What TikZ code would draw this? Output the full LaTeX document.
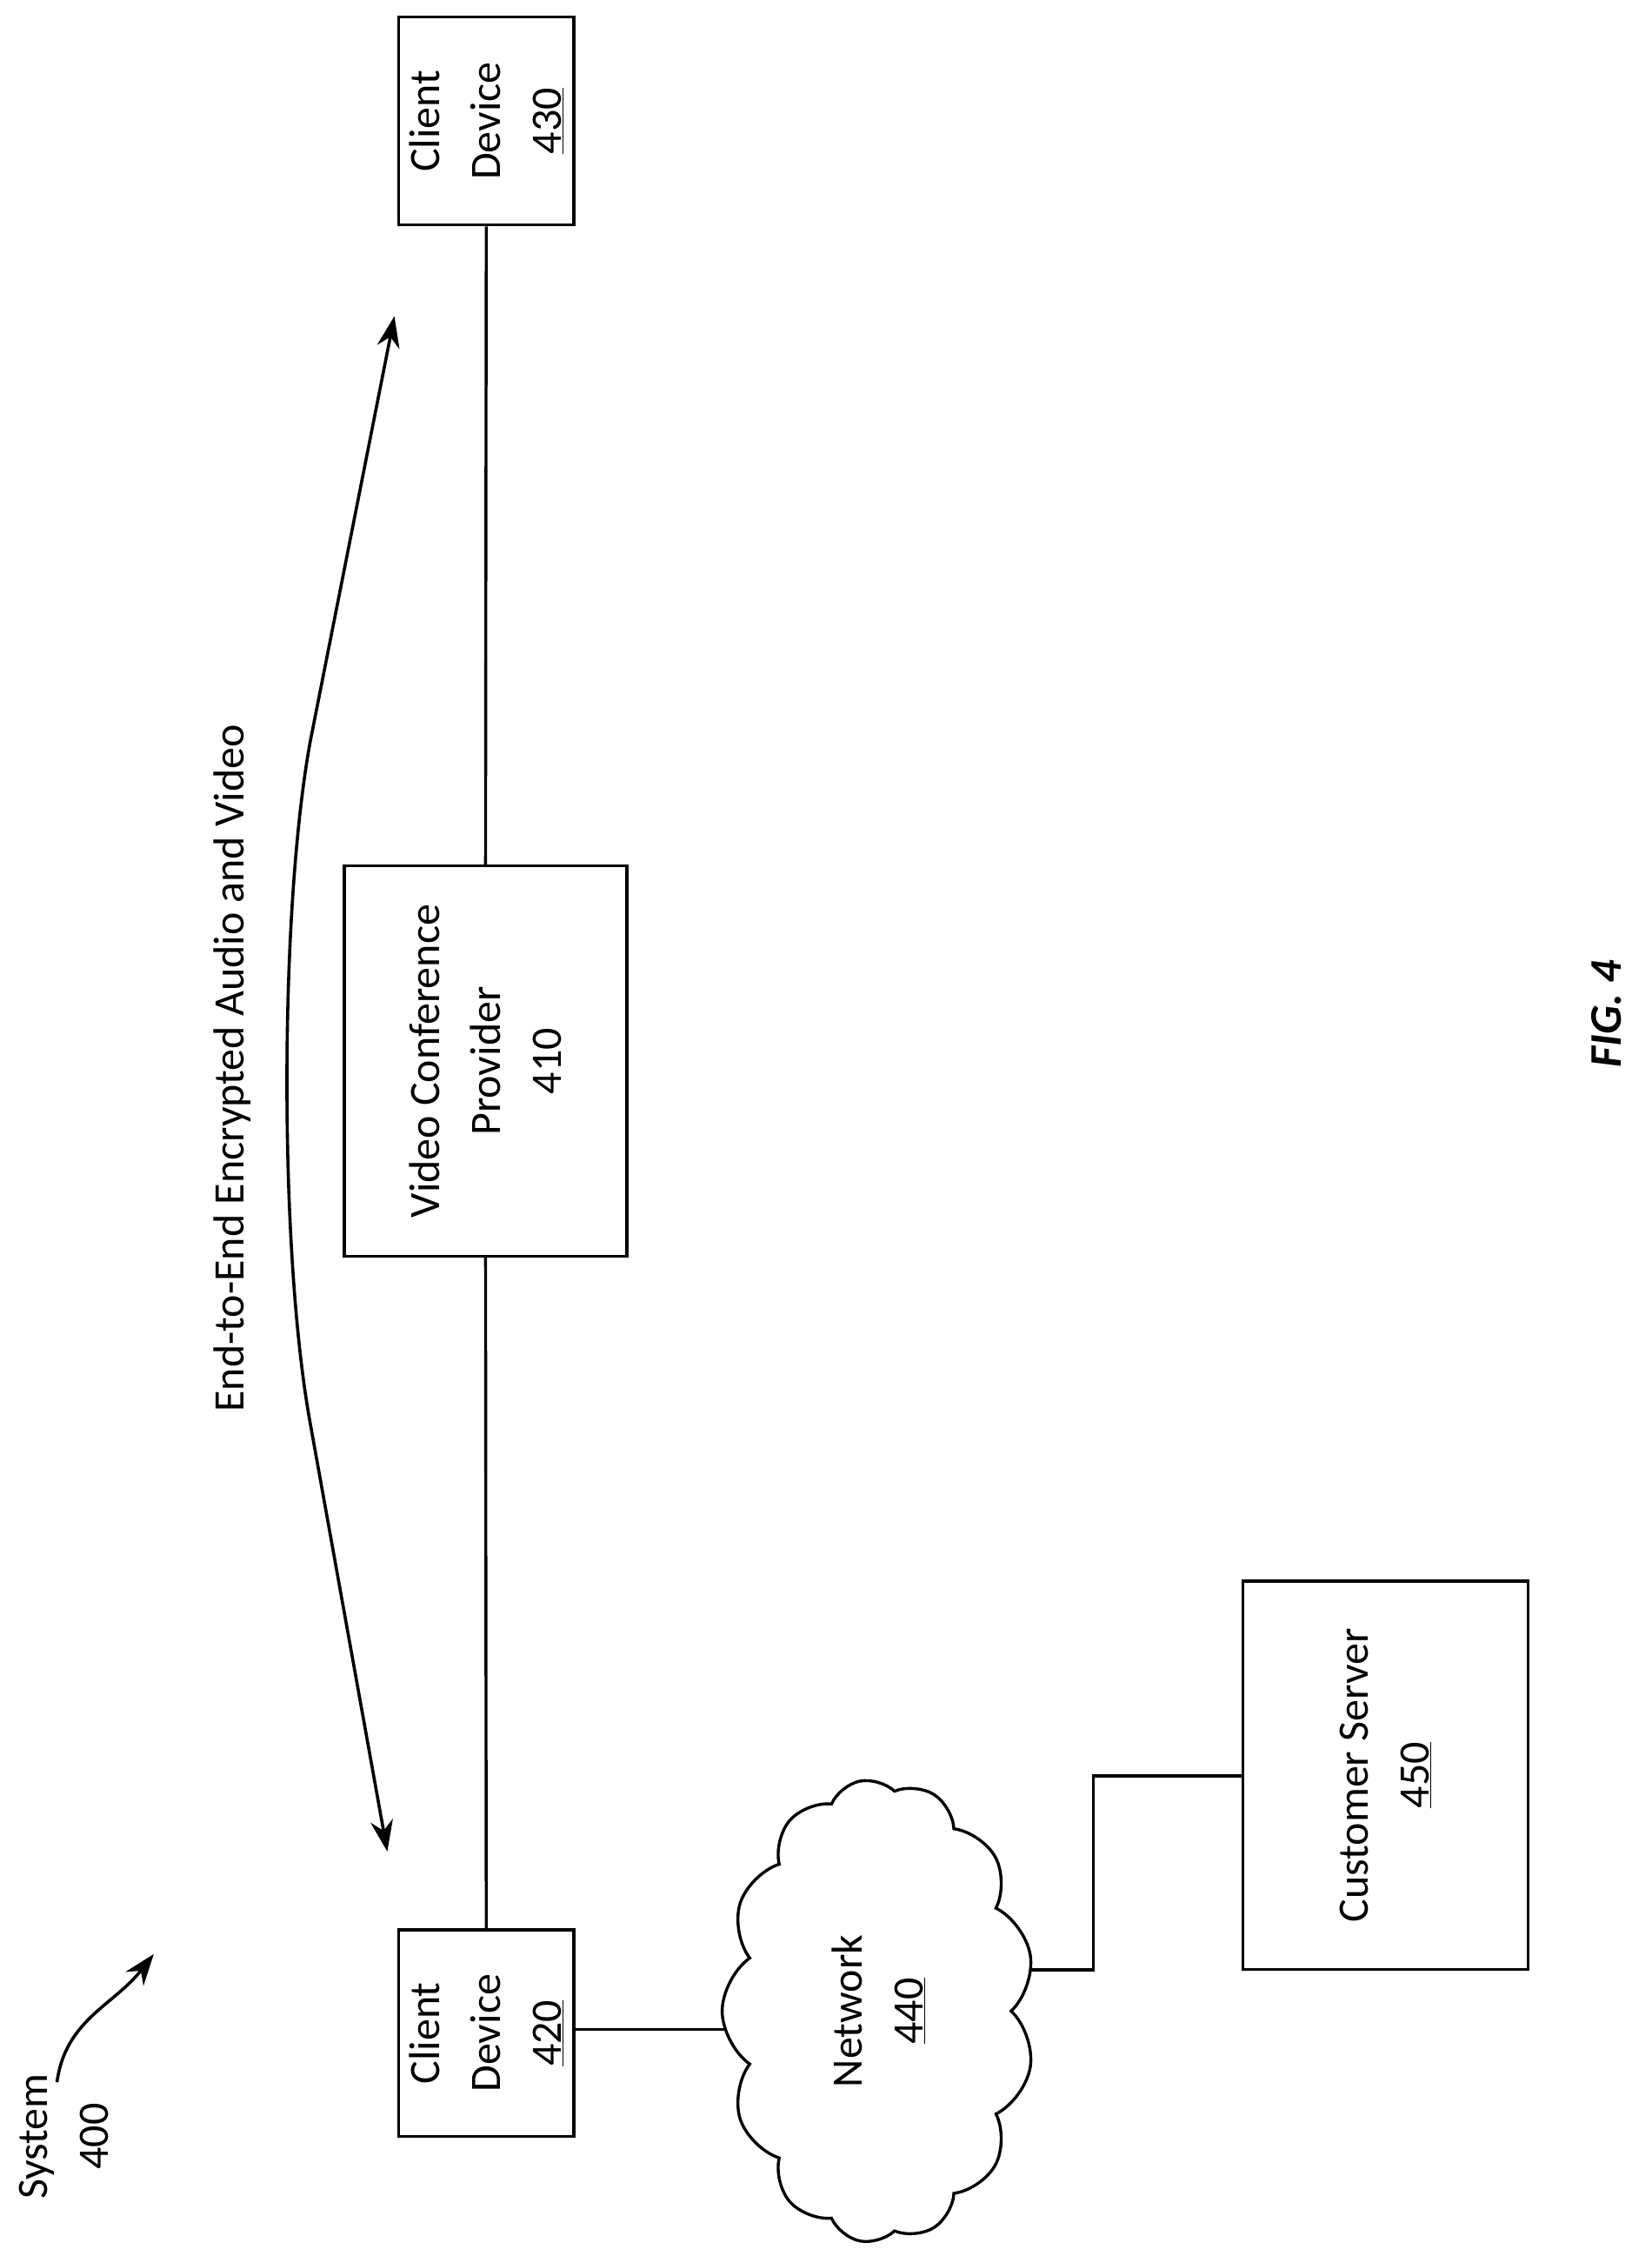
\documentclass[tikz,border=0pt]{standalone}
\usepackage{fontspec}
\setmainfont{Carlito}
\usetikzlibrary{shapes.symbols,arrows.meta}
\begin{document}
\begin{tikzpicture}[x=1.639pt,y=-1.639pt,>={Stealth[length=36pt,width=26pt]},
  box/.style={draw,line width=3.4pt,fill=white,inner sep=0pt},
  lbl/.style={rotate=90,align=center,font=\fontsize{50}{70}\selectfont},
  conn/.style={line width=3.4pt}]
\useasboundingbox (0,0) rectangle (1160,1584);
\coordinate (cs1) at (768,1383);
\coordinate (cs2) at (768,1247);
\node[box,minimum width=202pt,minimum height=239pt] (c430) at (341.5,85) {};
\node[box,minimum width=325pt,minimum height=449pt] (vcp) at (341,745) {};
\node[box,minimum width=202pt,minimum height=238pt] (c420) at (341.5,1427.5) {};
\node[box,minimum width=328pt,minimum height=447pt] (cs) at (973,1246.5) {};
\coordinate (netc) at (617,1412);
\draw[conn] (c430.south) -- (vcp.north);
\draw[conn] (vcp.south) -- (c420.north);
\draw[conn] (c420.east |- 0,1425) -- (617,1425);
\draw[conn] (617,1383) -- (cs1) -- (cs2) -- (cs.west |- cs2);
\node[cloud,cloud puffs=13,cloud puff arc=110,aspect=1.5,draw,line width=3.4pt,fill=white,rotate=90,minimum width=533pt,minimum height=360pt] (net) at (netc) {};
\node[lbl] (t430) at (c430) {Client\\Device\\\underline{430}};
\node[lbl] (t410) at (vcp) {Video Conference\\Provider\\410};
\node[lbl] (t420) at (c420) {Client\\Device\\\underline{420}};
\node[lbl] (t450) at (cs) {Customer Server\\\underline{450}};
\node[lbl] (t440) at (netc) {Network\\\underline{440}};
\node[lbl] (tee) at (163,750) {End-to-End Encrypted Audio and Video};
\node[lbl] (sys) at (45,1500) {System\\400};
\node[rotate=90,font=\fontsize{52}{60}\selectfont\bfseries\itshape] (fig) at (1128,712) {FIG. 4};
\coordinate (a1) at (272,1300);
\coordinate (a2) at (277,222);
\draw[line width=3.6pt,<->]
  (a1) -- (218,1000) .. controls (196,880) and (196,640) .. (218,520) -- (a2);
\coordinate (s1) at (40,1462);
\coordinate (s2) at (108,1372);
\draw[line width=3.6pt,->] (s1) .. controls (46,1418) and (80,1408) .. (s2);
\end{tikzpicture}
\end{document}
